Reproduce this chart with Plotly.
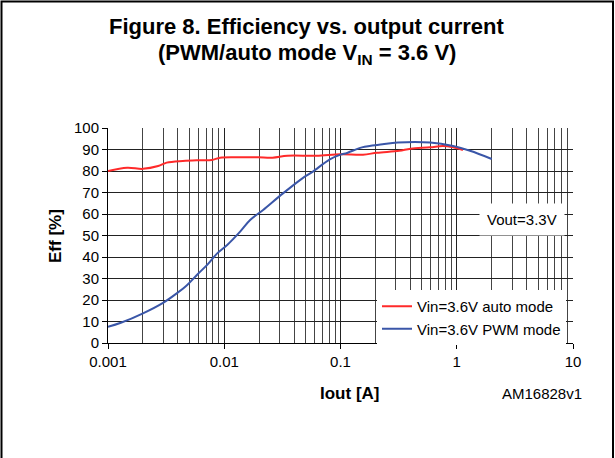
import plotly.graph_objects as go

# --- data ---
auto_iout = [0.001, 0.00146, 0.002, 0.0027, 0.0032, 0.0044, 0.0058, 0.0078, 0.0092,
             0.0137, 0.0195, 0.026, 0.035, 0.062, 0.1, 0.156, 0.206, 0.32, 0.40,
             0.59, 0.76, 0.93, 1.13]
auto_eff = [80, 81.5, 81, 82.3, 83.9, 84.7, 85, 85.1, 86.2,
            86.4, 86.4, 86.2, 87.1, 87.1, 87.8, 87.6, 88.5, 89.4, 90.4,
            91, 91.6, 91, 89.8]

pwm_iout = [0.001, 0.00129, 0.002, 0.003, 0.0039, 0.0048, 0.0059, 0.0072, 0.0087,
            0.0106, 0.0137, 0.0167, 0.0216, 0.032, 0.047, 0.057, 0.081, 0.1,
            0.114, 0.153, 0.23, 0.31, 0.59, 0.93, 1.3, 2.0]
pwm_eff = [7.5, 9.4, 13.8, 18.8, 23.1, 27, 32, 36.6, 41.7,
           45.6, 51.8, 57.2, 61.9, 69.6, 76.6, 79.5, 85.4, 87.6,
           88.4, 91, 92.4, 93.2, 93.2, 91.6, 89.4, 85.6]

x_ticks = [0.001, 0.01, 0.1, 1, 10]
x_ticktext = ["0.001", "0.01", "0.1", "1", "10"]

FONT = "Liberation Sans, Arial, sans-serif"


def px_x(px):
    # page pixel -> paper x (plot area spans 108..573)
    return (px - 108) / 465


def px_y(py):
    # page pixel -> paper y (plot area spans 343..128)
    return (343 - py) / 215


fig = go.Figure()
fig.add_trace(go.Scatter(x=auto_iout, y=auto_eff, mode="lines",
                         name="Vin=3.6V auto mode",
                         line=dict(color="#ff2a2a", width=2, shape="spline")))
fig.add_trace(go.Scatter(x=pwm_iout, y=pwm_eff, mode="lines",
                         name="Vin=3.6V PWM mode",
                         line=dict(color="#3a56a8", width=2, shape="spline")))

fig.update_layout(
    width=615, height=458,
    margin=dict(l=108, r=42, t=128, b=115),
    paper_bgcolor="white", plot_bgcolor="white",
    font=dict(family=FONT, size=15, color="black"),
    showlegend=True,
    legend=dict(x=px_x(377), y=px_y(290), xanchor="left", yanchor="top",
                bgcolor="white", font=dict(size=15), itemwidth=30,
                tracegroupgap=0),
)

fig.update_xaxes(
    type="log", range=[-3, 1],
    tickvals=x_ticks, ticktext=x_ticktext,
    ticks="outside", ticklen=5, tickcolor="black",
    showgrid=True, gridcolor="#222", gridwidth=1,
    minor=dict(dtick="D1", showgrid=True, gridcolor="#444", gridwidth=1),
    showline=True, linecolor="black", linewidth=1,
    zeroline=False,
)
fig.update_yaxes(
    range=[0, 100], dtick=10,
    ticks="outside", ticklen=5, tickcolor="black",
    showgrid=True, gridcolor="#222", gridwidth=1,
    showline=True, linecolor="black", linewidth=1,
    zeroline=False,
)

# titles and labels
labels = [
    ("<b>Figure 8. Efficiency vs. output current</b>", 307, 26, 22, 0),
    ("<b>(PWM/auto mode V<sub>IN</sub> = 3.6 V)</b>", 307, 54, 22, 0),
    ("<b>Eff [%]</b>", 55, 236, 17, -90),
    ("<b>Iout [A]</b>", 349, 393, 17, 0),
    ("AM16828v1", 542, 393, 15, 0),
]
for text, lx, ly, size, angle in labels:
    fig.add_annotation(text=text, xref="paper", yref="paper",
                       x=px_x(lx), y=px_y(ly), xanchor="center", yanchor="middle",
                       textangle=angle, showarrow=False, font=dict(size=size))

fig.add_annotation(text="Vout=3.3V", xref="paper", yref="paper",
                   x=px_x(522), y=px_y(219), xanchor="center", yanchor="middle",
                   showarrow=False, font=dict(size=15),
                   bgcolor="white", borderpad=7)

# outer frame
fig.add_shape(type="rect", xref="paper", yref="paper",
              x0=px_x(1.5), x1=px_x(613), y0=px_y(470), y1=px_y(1.5),
              line=dict(color="black", width=2), layer="above")

fig.write_html("out.html", config={"displayModeBar": False},
               post_script="document.body.style.margin='0';"
                           "document.body.style.overflow='hidden';")
